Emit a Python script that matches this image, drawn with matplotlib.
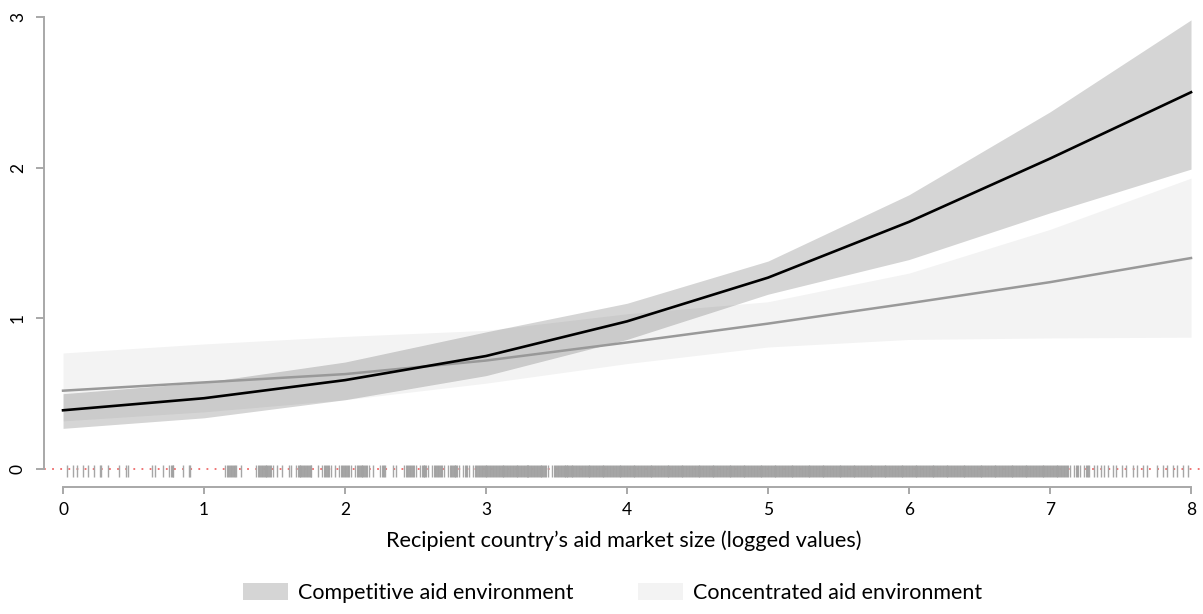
import matplotlib
matplotlib.use("Agg")
import matplotlib.pyplot as plt
from matplotlib.patches import Patch

plt.rcParams['font.family'] = ['Lato', 'DejaVu Sans']

# ---- data ----
x_vals = [0, 1, 2, 3, 4, 5, 6, 7, 8]
comp_mean = [0.39, 0.47, 0.59, 0.75, 0.98, 1.27, 1.64, 2.06, 2.50]
comp_lo = [0.27, 0.34, 0.46, 0.62, 0.86, 1.16, 1.39, 1.70, 1.99]
comp_hi = [0.50, 0.575, 0.71, 0.91, 1.10, 1.38, 1.82, 2.37, 2.98]
conc_mean = [0.52, 0.575, 0.63, 0.72, 0.84, 0.965, 1.10, 1.24, 1.40]
conc_lo = [0.32, 0.38, 0.46, 0.57, 0.70, 0.81, 0.86, 0.87, 0.875]
conc_hi = [0.77, 0.83, 0.88, 0.92, 1.03, 1.11, 1.30, 1.59, 1.93]

rug_x = [
    0.03, 0.07, 0.10, 0.14, 0.18, 0.22, 0.26, 0.27, 0.32, 0.40, 0.45, 0.46,
    0.63, 0.65, 0.71, 0.75, 0.77, 0.78, 0.85, 0.89, 0.90,
    1.15, 1.17, 1.19, 1.21, 1.23, 1.26,
    1.37, 1.39, 1.41, 1.43, 1.45, 1.47, 1.49, 1.52, 1.55, 1.60, 1.62,
    1.65, 1.67, 1.69, 1.71, 1.73, 1.75, 1.76, 1.81, 1.84, 1.86, 1.88, 1.90,
    1.93, 1.96, 1.98, 2.00, 2.02, 2.04, 2.07, 2.09, 2.11, 2.13, 2.15, 2.17,
    2.20, 2.25, 2.27, 2.28, 2.34, 2.36, 2.42, 2.44, 2.46, 2.48, 2.50, 2.53,
    2.55, 2.57, 2.59, 2.62, 2.64, 2.66, 2.68, 2.70, 2.73, 2.75, 2.77, 2.79,
    2.81, 2.84, 2.86, 2.88, 2.91, 2.93, 2.95, 2.97, 2.99, 3.01, 3.03, 3.05,
    3.07, 3.09, 3.11, 3.13, 3.15, 3.17, 3.19, 3.21, 3.23, 3.25, 3.27, 3.29,
    3.30, 3.32, 3.34, 3.36, 3.38, 3.40, 3.42, 3.44, 3.47, 3.49, 3.51, 3.53,
    3.55, 3.57,
    3.58, 3.60, 3.62, 3.64, 3.66, 3.68, 3.70, 3.72, 3.74, 3.76, 3.78, 3.80,
    3.82, 3.84, 3.86, 3.88, 3.90, 3.92, 3.94, 3.96, 3.98,
    4.00, 4.02, 4.04, 4.06, 4.08, 4.10, 4.12, 4.14, 4.16, 4.18, 4.20, 4.22,
    4.24, 4.26, 4.28, 4.30, 4.32, 4.34, 4.36, 4.38, 4.40, 4.42, 4.44, 4.46,
    4.48, 4.50, 4.52, 4.54, 4.56, 4.58, 4.60, 4.62, 4.64, 4.66, 4.68, 4.70,
    4.72, 4.74, 4.76, 4.78, 4.80, 4.82, 4.84, 4.86, 4.88, 4.90, 4.92, 4.94,
    4.96, 4.98,
    5.00, 5.02, 5.04, 5.06, 5.08, 5.10, 5.12, 5.14, 5.16, 5.18, 5.20, 5.22,
    5.24, 5.26, 5.28, 5.30, 5.32, 5.34, 5.36, 5.38, 5.40, 5.42, 5.44, 5.46,
    5.48, 5.50, 5.52, 5.54, 5.56, 5.58, 5.60, 5.62, 5.64, 5.66, 5.68, 5.70,
    5.72, 5.74, 5.76, 5.78, 5.80, 5.82, 5.84, 5.86, 5.88, 5.90, 5.92, 5.94,
    5.96, 5.98,
    6.00, 6.02, 6.04, 6.06, 6.08, 6.10, 6.12, 6.14, 6.16, 6.18, 6.20, 6.22,
    6.24, 6.26, 6.28, 6.30, 6.32, 6.34, 6.36, 6.38, 6.40, 6.42, 6.44, 6.46,
    6.48, 6.50, 6.52, 6.54, 6.56, 6.58, 6.60, 6.62, 6.64, 6.66, 6.68, 6.70,
    6.72, 6.74, 6.76, 6.78, 6.80, 6.82, 6.84, 6.86, 6.88, 6.90, 6.92, 6.94,
    6.96, 6.98,
    7.00, 7.02, 7.04, 7.06, 7.08, 7.10,
    7.12, 7.14, 7.17, 7.19, 7.21, 7.24, 7.26, 7.28, 7.31, 7.33, 7.36,
    7.38, 7.41, 7.45, 7.47, 7.51, 7.54, 7.59, 7.62, 7.66, 7.69, 7.76, 7.80,
    7.83, 7.87, 7.90, 7.94, 7.98,
]

x_ticks = [0, 1, 2, 3, 4, 5, 6, 7, 8]
y_ticks = [0, 1, 2, 3]
x_label = "Recipient country\u2019s aid market size (logged values)"
legend_labels = ["Competitive aid environment", "Concentrated aid environment"]

# ---- figure ----
W, H = 1203, 614
fig = plt.figure(figsize=(W / 100, H / 100), dpi=100)
ax = fig.add_axes([44 / W, (H - 487) / H, 1 - 44 / W, 487 / H])
ax.set_xlim(-0.135, 8.085)
ax.set_ylim(-0.119, 3.112)

dark = (0, 0, 0, 0.165)
light = "#f3f3f3"

ax.fill_between(x_vals, conc_lo, conc_hi, color=light, lw=0, zorder=1)
ax.fill_between(x_vals, comp_lo, comp_hi, color=dark, lw=0, zorder=2)
ax.plot(x_vals, conc_mean, color="#999999", lw=1.8, zorder=3)
ax.plot(x_vals, comp_mean, color="black", lw=1.9, zorder=4)

ax.axhline(0, color="#ee6a6a", lw=1.3, ls=(0, (1, 3.5)), zorder=2)

# rug: ticks in crowded stretches drawn wide enough to merge, isolated ones thin
srt = sorted(rug_x)
crowded = []
for i, v in enumerate(srt):
    prev_gap = v - srt[i - 1] if i > 0 else 1.0
    next_gap = srt[i + 1] - v if i < len(srt) - 1 else 1.0
    crowded.append(prev_gap <= 0.021 and next_gap <= 0.021)
ax.vlines([v for v, c in zip(srt, crowded) if not c], -0.055, 0.03,
          color="#a6a6a6", lw=1.0, zorder=3)
ax.vlines([v for v, c in zip(srt, crowded) if c], -0.055, 0.03,
          color="#a2a2a2", lw=2.1, zorder=3)

for s in ["top", "right"]:
    ax.spines[s].set_visible(False)
for s in ["left", "bottom"]:
    ax.spines[s].set_color("#a8a8a8")
    ax.spines[s].set_linewidth(1.4)
ax.spines["left"].set_bounds(0, 3)
ax.spines["bottom"].set_bounds(0, 8)

ax.set_xticks(x_ticks)
ax.set_yticks(y_ticks)
ax.set_yticklabels([str(v) for v in y_ticks], rotation=90, va="center")
ax.tick_params(axis="both", colors="#a8a8a8", width=1.4, labelcolor="black",
               labelsize=12.5)
ax.tick_params(axis="x", length=5, pad=6)
ax.tick_params(axis="y", length=6, pad=7)
ax.set_xlabel(x_label, fontsize=15.6, labelpad=9)

handles = [Patch(facecolor="#d5d5d5", edgecolor="none"),
           Patch(facecolor=light, edgecolor="none")]
fig.legend(handles, legend_labels, loc="lower center", ncol=2,
           bbox_to_anchor=(0.509, -0.014), frameon=False, fontsize=15.5,
           handlelength=2.1, handleheight=0.85, handletextpad=0.45,
           columnspacing=3.0)

fig.savefig("out.png", dpi=100)
